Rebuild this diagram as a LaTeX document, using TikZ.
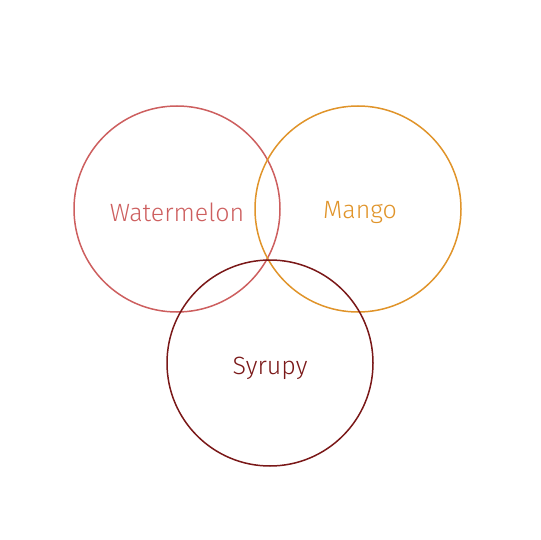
\documentclass[tikz,border=0pt]{standalone}
\usepackage{fontspec}
\setmainfont{Fira Sans Light}
\definecolor{wm}{HTML}{CD5F5F}
\definecolor{mg}{HTML}{E0942A}
\definecolor{sy}{HTML}{7A1818}
\begin{document}
\begin{tikzpicture}[x=1pt,y=-1pt,
  setc/.style={draw=#1, line width=1.5pt, circle, minimum size=206pt, inner sep=0pt},
  lab/.style={text=#1, font=\fontsize{25}{28}\selectfont}]
\useasboundingbox (0,0) rectangle (540,540);
\node[setc=wm] (w) at (177,209) {};
\node[setc=mg] (m) at (358,209) {};
\node[setc=sy] (s) at (270,363) {};
\node[lab=wm] (wl) at (177,212) {Watermelon};
\node[lab=mg] (ml) at (360,212) {Mango};
\node[lab=sy] (sl) at (270,368) {Syrupy};
\end{tikzpicture}
\end{document}
